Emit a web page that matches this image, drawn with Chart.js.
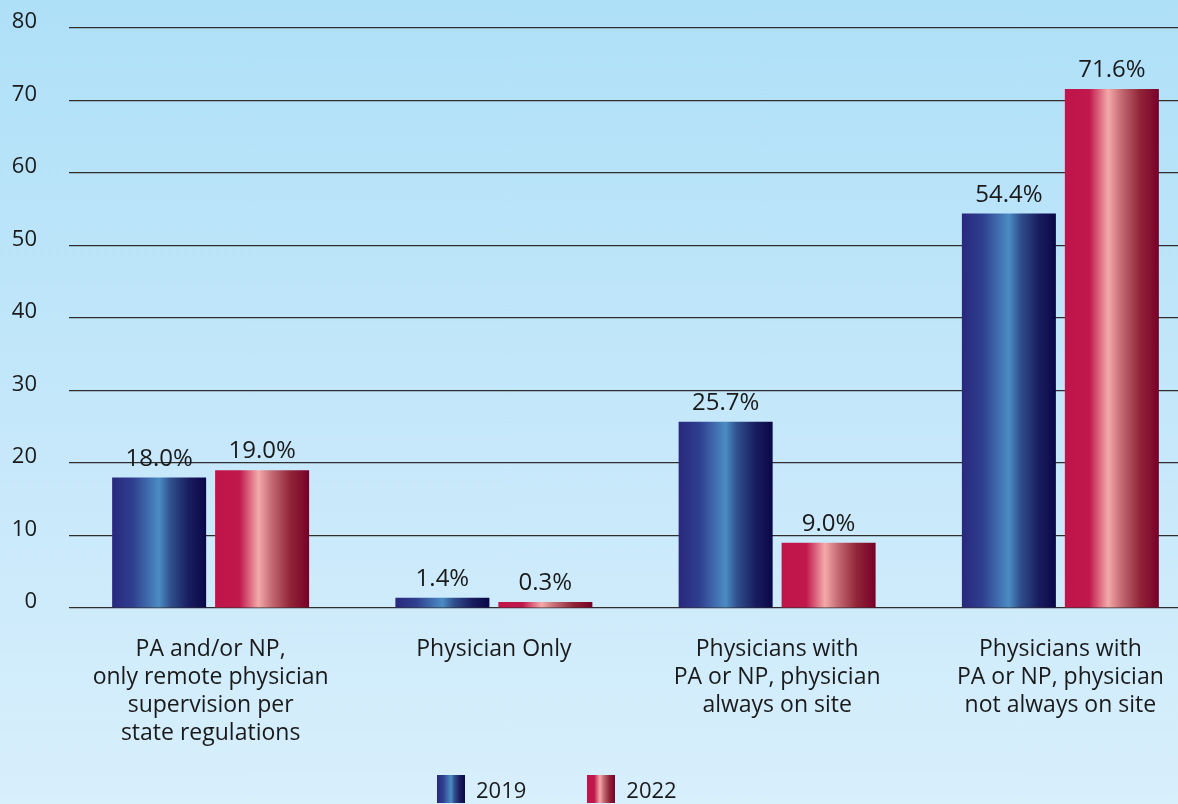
<!DOCTYPE html>
<html>
<head>
<meta charset="utf-8">
<script src="https://cdn.jsdelivr.net/npm/chart.js@4/dist/chart.umd.min.js"></script>
<style>
    html, body {
        margin: 0;
        padding: 0;
        width: 1178px;
        height: 804px;
        overflow: hidden;
        background: linear-gradient(to bottom, #aee0f8 0%, #c4e7fa 50%, #d8effc 100%);
        font-family: "Open Sans", sans-serif;
    }
    #wrap {
        position: relative;
        width: 1202px;
        height: 804px;
    }
    #legend {
        position: absolute;
        top: 775px;
        left: 437px;
        display: flex;
        align-items: center;
        font-size: 22px;
        color: #1a1a1a;
    }
    .legend-item {
        display: flex;
        align-items: center;
        height: 28px;
    }
    .legend-box {
        width: 28px;
        height: 28px;
        margin-right: 11px;
    }
    .legend-item + .legend-item {
        margin-left: 61px;
    }
</style>
</head>
<body>
<div id="wrap">
    <canvas id="chart" width="1202" height="804"></canvas>
    <div id="legend"></div>
</div>
<script>
const categories = [
    ['PA and/or NP,', 'only remote physician', 'supervision per', 'state regulations'],
    'Physician Only',
    ['Physicians with', 'PA or NP, physician', 'always on site'],
    ['Physicians with', 'PA or NP, physician', 'not always on site']
];
const seriesNames = ['2019', '2022'];
const values2019 = [18.0, 1.4, 25.7, 54.4];
const values2022 = [19.0, 0.3, 9.0, 71.6];
const yMin = 0;
const yMax = 80;
const yStep = 10;

const blueStops = [[0, '#29287d'], [0.22, '#2f3f8f'], [0.5, '#4b8cc4'], [0.62, '#30508e'], [0.82, '#181c5e'], [1, '#0a0748']];
const redStops = [[0, '#c0144a'], [0.26, '#c0184c'], [0.46, '#f4a9a9'], [0.6, '#c46a73'], [0.8, '#912438'], [1, '#780028']];
const seriesStops = [blueStops, redStops];

const CAT_PCT = 0.727;
const BAR_PCT = 0.913;

function stopsToCss(stops) {
    return 'linear-gradient(to right, ' + stops.map(s => `${s[1]} ${s[0] * 100}%`).join(', ') + ')';
}

function makeGradient(ctx, stops, left, width) {
    const g = ctx.createLinearGradient(left, 0, left + width, 0);
    stops.forEach(s => g.addColorStop(s[0], s[1]));
    return g;
}

// gradients need the bar's pixel position, so apply them once the bars are laid out
const barGradients = {
    id: 'barGradients',
    beforeDatasetsDraw(chart) {
        chart.data.datasets.forEach((ds, i) => {
            chart.getDatasetMeta(i).data.forEach(el => {
                const left = el.x - el.width / 2;
                if (isFinite(left) && isFinite(el.width)) {
                    el.options.backgroundColor = makeGradient(chart.ctx, seriesStops[i], left, el.width);
                }
            });
        });
    }
};

const valueLabels = {
    id: 'valueLabels',
    afterDatasetsDraw(chart) {
        const ctx = chart.ctx;
        ctx.save();
        ctx.font = '24px "Open Sans"';
        ctx.fillStyle = '#1a1a1a';
        ctx.textAlign = 'center';
        ctx.textBaseline = 'alphabetic';
        chart.data.datasets.forEach((ds, i) => {
            chart.getDatasetMeta(i).data.forEach((el, j) => {
                ctx.fillText(ds.data[j].toFixed(1) + '%', el.x, el.y - 12);
            });
        });
        ctx.restore();
    }
};

new Chart(document.getElementById('chart'), {
    type: 'bar',
    data: {
        labels: categories,
        datasets: seriesNames.map((name, i) => ({
            label: name,
            data: i === 0 ? values2019 : values2022,
            // scriptable so each bar keeps its own options object
            backgroundColor: ctx => seriesStops[ctx.datasetIndex][0][1],
            borderWidth: 0,
            minBarLength: 6,
            categoryPercentage: CAT_PCT,
            barPercentage: BAR_PCT
        }))
    },
    options: {
        responsive: false,
        animation: false,
        layout: {
            padding: { top: 28, left: 0, right: 0, bottom: 0 }
        },
        plugins: {
            legend: { display: false },
            tooltip: { enabled: false }
        },
        scales: {
            x: {
                grid: { display: false, drawTicks: false },
                border: { display: false },
                ticks: {
                    color: '#1a1a1a',
                    padding: 27,
                    maxRotation: 0,
                    autoSkip: false,
                    font: { family: 'Open Sans', size: 23, lineHeight: 1.22 }
                },
                afterFit: scale => { scale.height = 196; }
            },
            y: {
                min: yMin,
                max: yMax,
                grid: {
                    color: '#2e2e2e',
                    lineWidth: 1.2,
                    drawTicks: false
                },
                border: { display: false },
                ticks: {
                    stepSize: yStep,
                    color: '#1a1a1a',
                    padding: 32,
                    labelOffset: -6,
                    font: { family: 'Open Sans', size: 22 }
                },
                afterFit: scale => {
                    scale.width = 69;
                    scale.paddingTop = 0;
                    scale.paddingBottom = 0;
                }
            }
        }
    },
    plugins: [barGradients, valueLabels]
});

const legend = document.getElementById('legend');
legend.innerHTML = seriesNames.map((name, i) => `
    <div class="legend-item">
        <div class="legend-box" style="background:${stopsToCss(seriesStops[i])}"></div>
        <span>${name}</span>
    </div>
`).join('');
</script>
</body>
</html>
